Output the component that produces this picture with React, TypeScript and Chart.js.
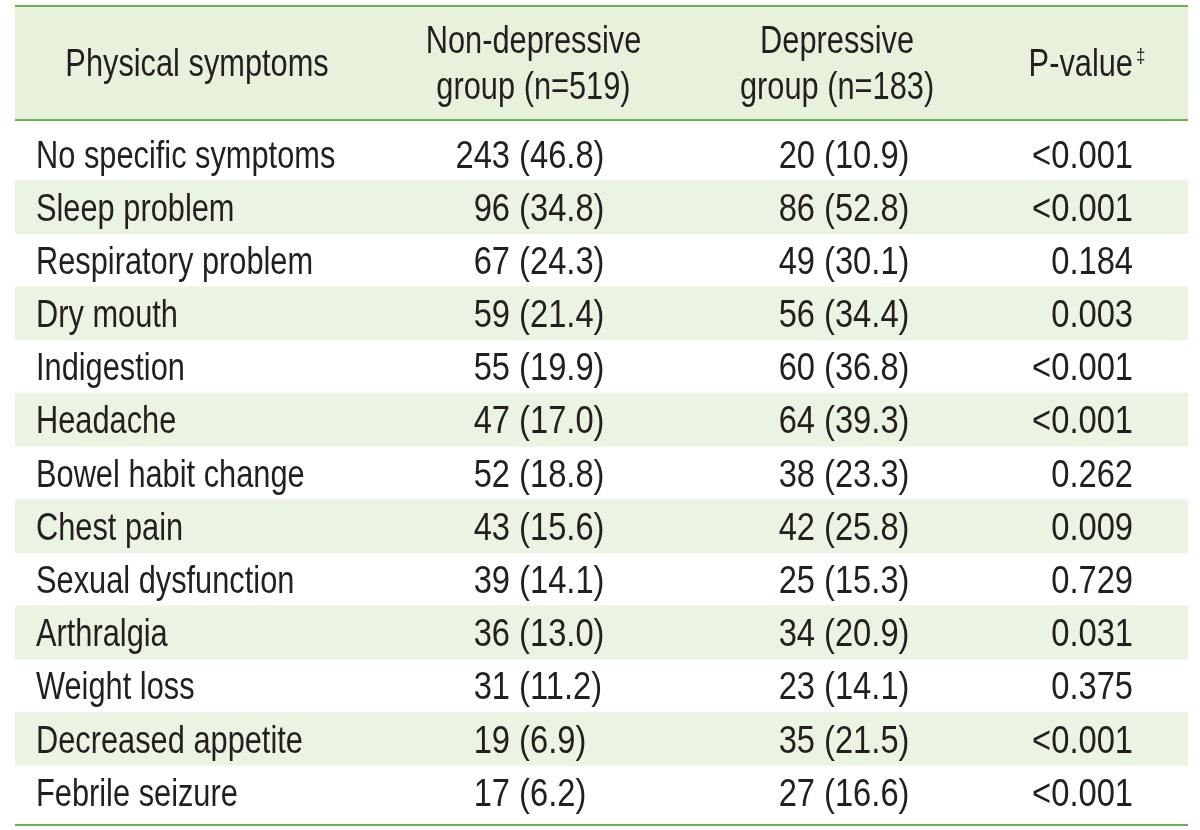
import React, { useEffect, useRef } from "react";
import { Chart, registerables } from "chart.js";

Chart.register(...registerables);

// ---- data ----
const symptoms = [
  "No specific symptoms",
  "Sleep problem",
  "Respiratory problem",
  "Dry mouth",
  "Indigestion",
  "Headache",
  "Bowel habit change",
  "Chest pain",
  "Sexual dysfunction",
  "Arthralgia",
  "Weight loss",
  "Decreased appetite",
  "Febrile seizure",
];
const nonDepCount = [243, 96, 67, 59, 55, 47, 52, 43, 39, 36, 31, 19, 17];
const nonDepPct = [46.8, 34.8, 24.3, 21.4, 19.9, 17.0, 18.8, 15.6, 14.1, 13.0, 11.2, 6.9, 6.2];
const depCount = [20, 86, 49, 56, 60, 64, 38, 42, 25, 34, 23, 35, 27];
const depPct = [10.9, 52.8, 30.1, 34.4, 36.8, 39.3, 23.3, 25.8, 15.3, 20.9, 14.1, 21.5, 16.6];
const pValues = ["<0.001", "<0.001", "0.184", "0.003", "<0.001", "<0.001", "0.262", "0.009", "0.729", "0.031", "0.375", "<0.001", "<0.001"];

const headerSymptom = ["Physical symptoms"];
const headerNonDep = ["Non-depressive", "group (n=519)"];
const headerDep = ["Depressive", "group (n=183)"];
const headerP = "P-value";
const headerPMark = "\u2021";

// ---- layout (scale units) ----
const HEADER_TOP = -2.78;
const HEADER_BOTTOM = -0.63;
const TABLE_BOTTOM = 12.62;
const HEADER_LINE1 = -2.16;
const HEADER_LINE2 = -1.29;
const HEADER_SINGLE = -1.72;

const X_SYMPTOM = 1.79;
const X_H_SYMPTOM = 15.52;
const X_H_NONDEP = 44.2;
const X_NONDEP_NUM = 42.2;
const X_H_DEP = 70.08;
const X_DEP_NUM = 68.2;
const X_P_RIGHT = 95.31;

const FONT_FAMILY = '"Liberation Sans", Arial, sans-serif';
const FONT_SIZE = 38;
const WORD_SX = 0.81;
const NUM_SX = 0.86;
const TEXT_COLOR = "#231f20";
const HEADER_BG = "#e7f1dc";
const STRIPE_BG = "#ebf3e2";
const LINE_COLOR = "#66b553";

function drawText(ctx: CanvasRenderingContext2D, text: string, x: number, y: number, align: CanvasTextAlign, sx: number) {
  ctx.save();
  ctx.translate(x, y);
  ctx.scale(sx, 1);
  ctx.textAlign = align;
  ctx.fillText(text, 0, 0);
  ctx.restore();
}

const tablePlugin = {
  id: "tableText",
  beforeDatasetsDraw(chart: any) {
    const { ctx, scales } = chart;
    const xs = scales.x;
    const ys = scales.y;
    const x0 = xs.getPixelForValue(0);
    const x1 = xs.getPixelForValue(100);
    ctx.save();
    ctx.fillStyle = HEADER_BG;
    const yt = ys.getPixelForValue(HEADER_TOP);
    const yb = ys.getPixelForValue(HEADER_BOTTOM);
    ctx.fillRect(x0, yt, x1 - x0, yb - yt);
    ctx.restore();
  },
  afterDatasetsDraw(chart: any) {
    const { ctx, scales } = chart;
    const xs = scales.x;
    const ys = scales.y;
    const x0 = xs.getPixelForValue(0);
    const x1 = xs.getPixelForValue(100);
    ctx.save();
    ctx.strokeStyle = LINE_COLOR;
    ctx.lineWidth = 2;
    [HEADER_TOP, HEADER_BOTTOM, TABLE_BOTTOM].forEach((v) => {
      const y = Math.round(ys.getPixelForValue(v));
      ctx.beginPath();
      ctx.moveTo(x0, y);
      ctx.lineTo(x1, y);
      ctx.stroke();
    });

    ctx.fillStyle = TEXT_COLOR;
    ctx.font = `${FONT_SIZE}px ${FONT_FAMILY}`;
    ctx.textBaseline = "alphabetic";
    const base = (v: number) => ys.getPixelForValue(v) + FONT_SIZE * 0.36;

    // header
    drawText(ctx, headerSymptom[0], xs.getPixelForValue(X_H_SYMPTOM), base(HEADER_SINGLE), "center", WORD_SX);
    drawText(ctx, headerNonDep[0], xs.getPixelForValue(X_H_NONDEP), base(HEADER_LINE1), "center", WORD_SX);
    drawText(ctx, headerNonDep[1], xs.getPixelForValue(X_H_NONDEP), base(HEADER_LINE2), "center", WORD_SX);
    drawText(ctx, headerDep[0], xs.getPixelForValue(X_H_DEP), base(HEADER_LINE1), "center", WORD_SX);
    drawText(ctx, headerDep[1], xs.getPixelForValue(X_H_DEP), base(HEADER_LINE2), "center", WORD_SX);
    const pr = xs.getPixelForValue(X_P_RIGHT);
    const pb = base(HEADER_SINGLE);
    drawText(ctx, headerP, pr, pb, "right", WORD_SX);
    ctx.font = `${Math.round(FONT_SIZE * 0.55)}px ${FONT_FAMILY}`;
    drawText(ctx, headerPMark, pr + 3, pb - FONT_SIZE * 0.34, "left", WORD_SX);
    ctx.font = `${FONT_SIZE}px ${FONT_FAMILY}`;

    // body
    symptoms.forEach((name, i) => {
      const y = base(i);
      drawText(ctx, name, xs.getPixelForValue(X_SYMPTOM), y, "left", WORD_SX);

      const xn = xs.getPixelForValue(X_NONDEP_NUM);
      drawText(ctx, String(nonDepCount[i]), xn, y, "right", NUM_SX);
      drawText(ctx, ` (${nonDepPct[i].toFixed(1)})`, xn, y, "left", NUM_SX);

      const xd = xs.getPixelForValue(X_DEP_NUM);
      drawText(ctx, String(depCount[i]), xd, y, "right", NUM_SX);
      drawText(ctx, ` (${depPct[i].toFixed(1)})`, xd, y, "left", NUM_SX);

      drawText(ctx, pValues[i], pr, y, "right", NUM_SX);
    });
    ctx.restore();
  },
};

export default function App() {
  const canvasRef = useRef<HTMLCanvasElement | null>(null);

  useEffect(() => {
    if (!canvasRef.current) return;
    const chart = new Chart(canvasRef.current, {
      type: "bar",
      data: {
        datasets: [
          {
            data: symptoms.map((_, i) => ({ x: [0, 100], y: i })) as any,
            backgroundColor: symptoms.map((_, i) => (i % 2 === 1 ? STRIPE_BG : "rgba(0,0,0,0)")),
            borderWidth: 0,
            barPercentage: 1,
            categoryPercentage: 1,
          },
        ],
      },
      options: {
        indexAxis: "y",
        responsive: false,
        maintainAspectRatio: false,
        animation: false,
        events: [],
        layout: { padding: { left: 15, right: 12, top: 6, bottom: 5 } },
        plugins: {
          legend: { display: false },
          tooltip: { enabled: false },
        },
        scales: {
          x: { type: "linear", min: 0, max: 100, display: false, offset: false },
          y: {
            type: "linear",
            min: HEADER_TOP,
            max: TABLE_BOTTOM,
            reverse: true,
            display: false,
            offset: false,
            grid: { offset: false },
            afterBuildTicks: (axis: any) => {
              axis.ticks = symptoms.map((_, i) => ({ value: i }));
            },
          },
        },
      },
      plugins: [tablePlugin],
    } as any);
    return () => chart.destroy();
  }, []);

  return (
    <div style={{ position: "fixed", left: 0, top: 0, width: 1200, height: 830, background: "#ffffff" }}>
      <canvas ref={canvasRef} width={1200} height={830} style={{ display: "block", width: 1200, height: 830 }} />
    </div>
  );
}
